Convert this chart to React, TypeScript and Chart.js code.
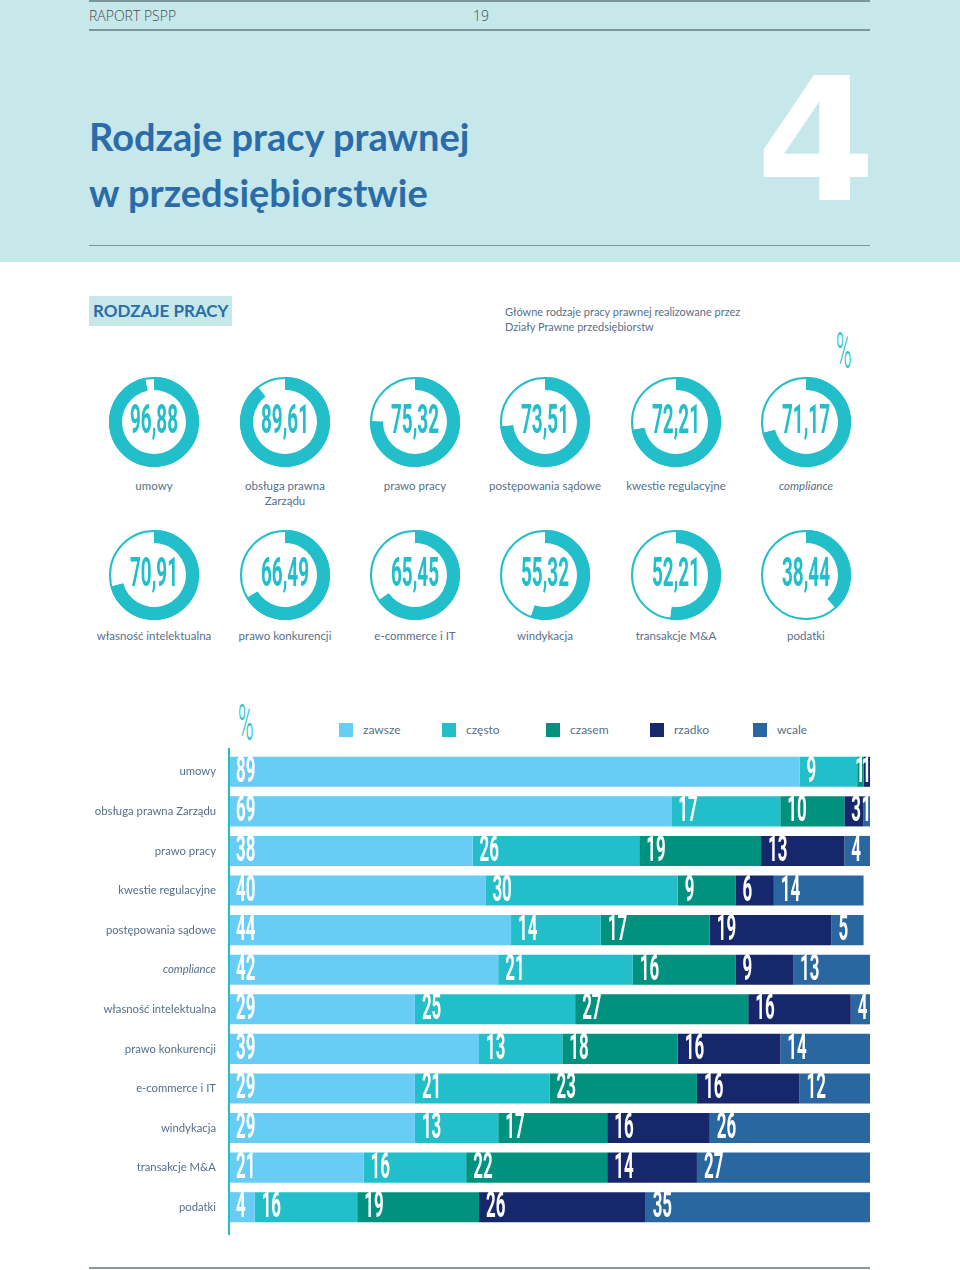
import React, { useEffect, useRef } from "react";
import { Chart, registerables } from "chart.js";

Chart.register(...registerables);

const TEAL = "#22bfca";
const TITLE_BLUE = "#2b6ca8";
const LABEL_COLOR = "#566f8a";
const BAND = "#c6e8eb";

const DONUT_LABELS = [
  "umowy",
  "obsługa prawna\nZarządu",
  "prawo pracy",
  "postępowania sądowe",
  "kwestie regulacyjne",
  "compliance",
  "własność intelektualna",
  "prawo konkurencji",
  "e-commerce i IT",
  "windykacja",
  "transakcje M&A",
  "podatki",
];
const DONUT_VALUES = [96.88, 89.61, 75.32, 73.51, 72.21, 71.17, 70.91, 66.49, 65.45, 55.32, 52.21, 38.44];

const BAR_CATEGORIES = [
  "umowy",
  "obsługa prawna Zarządu",
  "prawo pracy",
  "kwestie regulacyjne",
  "postępowania sądowe",
  "compliance",
  "własność intelektualna",
  "prawo konkurencji",
  "e-commerce i IT",
  "windykacja",
  "transakcje M&A",
  "podatki",
];
const SERIES_NAMES = ["zawsze", "często", "czasem", "rzadko", "wcale"];
const SERIES_COLORS = ["#67cdf5", "#22bfca", "#00927f", "#17276b", "#2a66a0"];
const ZAWSZE = [89, 69, 38, 40, 44, 42, 29, 39, 29, 29, 21, 4];
const CZESTO = [9, 17, 26, 30, 14, 21, 25, 13, 21, 13, 16, 16];
const CZASEM = [1, 10, 19, 9, 17, 16, 27, 18, 23, 17, 22, 19];
const RZADKO = [1, 3, 13, 6, 19, 9, 16, 16, 16, 16, 14, 26];
const WCALE = [0, 1, 4, 14, 5, 13, 4, 14, 12, 26, 27, 35];
const SERIES = [ZAWSZE, CZESTO, CZASEM, RZADKO, WCALE];

const fmt = (v: number) => v.toFixed(2).replace(".", ",");

function Donut({ value }: { value: number }) {
  const ref = useRef<HTMLCanvasElement>(null);
  useEffect(() => {
    const ringPlugin = {
      id: "ring",
      afterDatasetsDraw(chart: any) {
        const arc: any = chart.getDatasetMeta(0).data[0];
        if (!arc) return;
        const { x, y, outerRadius } = arc;
        const ctx = chart.ctx;
        ctx.save();
        ctx.beginPath();
        ctx.arc(x, y, outerRadius - 1, 0, Math.PI * 2);
        ctx.strokeStyle = TEAL;
        ctx.lineWidth = 2;
        ctx.stroke();
        ctx.translate(x, y + 1);
        ctx.scale(0.46, 1);
        ctx.font = "bold 41px Roboto";
        ctx.fillStyle = TEAL;
        ctx.textAlign = "center";
        ctx.textBaseline = "middle";
        ctx.fillText(fmt(value), 0, 0);
        ctx.restore();
      },
    };
    const chart = new Chart(ref.current!, {
      type: "doughnut",
      data: {
        labels: ["tak", "reszta"],
        datasets: [
          {
            data: [value, 100 - value],
            backgroundColor: [TEAL, "#ffffff"],
            borderWidth: 0,
          },
        ],
      },
      options: {
        responsive: false,
        animation: false,
        cutout: "71%",
        events: [],
        plugins: { legend: { display: false }, tooltip: { enabled: false } },
      },
      plugins: [ringPlugin],
    });
    return () => chart.destroy();
  }, [value]);
  return <canvas ref={ref} width={90} height={90} />;
}

function BarChart() {
  const ref = useRef<HTMLCanvasElement>(null);
  useEffect(() => {
    const labelPlugin = {
      id: "barLabels",
      afterDatasetsDraw(chart: any) {
        const ctx = chart.ctx;
        const area = chart.chartArea;
        ctx.save();
        ctx.fillStyle = TEAL;
        ctx.fillRect(area.left - 1, area.top - 4, 2, area.bottom - area.top + 12);
        ctx.restore();
        chart.data.datasets.forEach((ds: any, i: number) => {
          const meta = chart.getDatasetMeta(i);
          meta.data.forEach((el: any, j: number) => {
            const v = ds.data[j] as number;
            if (!v) return;
            const left = Math.min(el.x, el.base);
            const w = Math.abs(el.x - el.base);
            const off = w < 12 ? -2 : 7;
            ctx.save();
            ctx.translate(left + off, el.y + 1);
            ctx.scale(0.47, 1);
            ctx.font = "bold 36px Roboto";
            ctx.fillStyle = "#ffffff";
            ctx.textAlign = "left";
            ctx.textBaseline = "middle";
            ctx.fillText(String(v), 0, 0);
            ctx.restore();
          });
        });
      },
    };
    const chart = new Chart(ref.current!, {
      type: "bar",
      data: {
        labels: BAR_CATEGORIES,
        datasets: SERIES.map((d, i) => ({
          label: SERIES_NAMES[i],
          data: d,
          backgroundColor: SERIES_COLORS[i],
          borderWidth: 0,
          barPercentage: 0.76,
          categoryPercentage: 1,
        })),
      },
      options: {
        indexAxis: "y",
        responsive: false,
        animation: false,
        events: [],
        layout: { padding: { top: 4, bottom: 8, left: 0, right: 0 } },
        plugins: { legend: { display: false }, tooltip: { enabled: false } },
        scales: {
          x: { stacked: true, min: 0, max: 100, display: false },
          y: {
            stacked: true,
            grid: { display: false, drawTicks: false },
            border: { display: false },
            ticks: {
              color: LABEL_COLOR,
              padding: 13,
              font: (c: any) => ({
                family: "Lato",
                size: 11.3,
                style: c.index === 5 ? "italic" : "normal",
              }),
            },
            afterFit: (s: any) => {
              s.width = 149;
              s.paddingTop = 0;
              s.paddingBottom = 0;
            },
          },
        },
      },
      plugins: [labelPlugin],
    });
    return () => chart.destroy();
  }, []);
  return <canvas ref={ref} width={790} height={487} />;
}

const abs = (left: number, top: number, extra: any = {}) => ({
  position: "absolute" as const,
  left,
  top,
  ...extra,
});

function Percent({ left, top }: { left: number; top: number }) {
  return (
    <div
      style={abs(left, top, {
        fontFamily: "Roboto",
        fontWeight: 300,
        fontSize: 50,
        lineHeight: "50px",
        color: TEAL,
        transform: "scaleX(0.42)",
        transformOrigin: "left top",
      })}
    >
      %
    </div>
  );
}

export default function App() {
  const donutXs = [154, 285, 415, 545, 676, 806];
  const donutRows = [422, 575];
  const labelTops = [478, 628];
  const legendXs = [339, 442, 546, 650, 753];
  return (
    <div
      style={{
        position: "absolute",
        left: 0,
        top: 0,
        width: 960,
        height: 1270,
        background: "#ffffff",
        overflow: "hidden",
        fontFamily: "Lato",
      }}
    >
      <div style={abs(0, 0, { width: 960, height: 262, background: BAND })} />
      <div style={abs(89, 0, { width: 781, height: 2, background: "#7c9599" })} />
      <div style={abs(89, 29, { width: 781, height: 2, background: "#7c9599" })} />
      <div
        style={abs(89, 6, {
          fontFamily: "Open Sans",
          fontWeight: 300,
          fontSize: 14,
          lineHeight: "20px",
          color: "#4a4a4a",
        })}
      >
        RAPORT PSPP
      </div>
      <div
        style={abs(473, 6, {
          fontFamily: "Open Sans",
          fontWeight: 300,
          fontSize: 14,
          lineHeight: "20px",
          color: "#4a4a4a",
        })}
      >
        19
      </div>
      <div
        style={abs(89, 108, {
          fontFamily: "Lato",
          fontWeight: 700,
          fontSize: 38,
          lineHeight: "56px",
          color: TITLE_BLUE,
          whiteSpace: "pre",
        })}
      >
        {"Rodzaje pracy prawnej\nw przedsiębiorstwie"}
      </div>
      <div
        style={abs(756, 55, {
          fontFamily: "DejaVu Sans",
          fontWeight: 700,
          fontSize: 172,
          lineHeight: "172px",
          color: "#ffffff",
        })}
      >
        4
      </div>
      <div style={abs(89, 245, { width: 781, height: 1, background: "#7c9599" })} />

      <div
        style={abs(89, 296, {
          width: 143,
          height: 30,
          background: BAND,
          color: TITLE_BLUE,
          fontFamily: "Lato",
          fontWeight: 700,
          fontSize: 17,
          lineHeight: "30px",
          paddingLeft: 4,
          boxSizing: "border-box",
        })}
      >
        RODZAJE PRACY
      </div>
      <div
        style={abs(505, 304, {
          fontFamily: "Lato",
          fontSize: 11,
          lineHeight: "15px",
          color: LABEL_COLOR,
          whiteSpace: "pre",
        })}
      >
        {"Główne rodzaje pracy prawnej realizowane przez\nDziały Prawne przedsiębiorstw"}
      </div>
      <Percent left={836} top={326} />

      {DONUT_VALUES.map((v, i) => {
        const row = Math.floor(i / 6);
        const col = i % 6;
        const cx = donutXs[col];
        const cy = donutRows[row];
        const label = DONUT_LABELS[i];
        return (
          <React.Fragment key={i}>
            <div style={abs(cx - 45, cy - 45, { width: 90, height: 90 })}>
              <Donut value={v} />
            </div>
            <div
              style={abs(cx - 65, labelTops[row], {
                width: 130,
                textAlign: "center",
                fontFamily: "Lato",
                fontSize: 11.5,
                lineHeight: "15px",
                color: LABEL_COLOR,
                whiteSpace: "pre",
                fontStyle: label === "compliance" ? "italic" : "normal",
              })}
            >
              {label}
            </div>
          </React.Fragment>
        );
      })}

      <Percent left={238} top={698} />
      {SERIES_NAMES.map((n, i) => (
        <React.Fragment key={n}>
          <div
            style={abs(legendXs[i], 723, {
              width: 14,
              height: 14,
              background: SERIES_COLORS[i],
            })}
          />
          <div
            style={abs(legendXs[i] + 24, 722, {
              fontFamily: "Lato",
              fontSize: 12,
              lineHeight: "16px",
              color: LABEL_COLOR,
            })}
          >
            {n}
          </div>
        </React.Fragment>
      ))}

      <div style={abs(80, 748, { width: 790, height: 487 })}>
        <BarChart />
      </div>
      <div style={abs(89, 1267, { width: 781, height: 2, background: "#8a9a9c" })} />
    </div>
  );
}
